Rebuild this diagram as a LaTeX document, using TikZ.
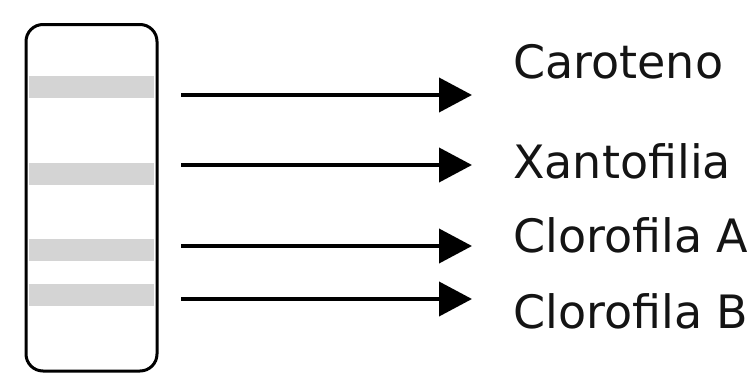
\documentclass[tikz,border=0pt]{standalone}
\usepackage{fontspec}
\setmainfont{DejaVu Sans}
\usetikzlibrary{arrows.meta}
\definecolor{bandgray}{HTML}{D4D4D4}
\tikzset{
  strip/.style={draw=black, line width=3pt, rounded corners=17pt},
  band/.style={fill=bandgray, draw=none},
  pointer/.style={line width=4pt, -{Triangle[length=33pt, width=34pt]}, shorten >=0pt},
  pigment/.style={anchor=base west, inner sep=0pt, font=\fontsize{46}{50}\selectfont, text=black!92}
}
\begin{document}
\begin{tikzpicture}[x=1pt, y=-1pt]
  \useasboundingbox (0,0) rectangle (754,375);
  % pigment bands on the strip
  \fill[band] (29,76) rectangle (154,98);
  \fill[band] (29,163) rectangle (154,185);
  \fill[band] (29,239) rectangle (154,261);
  \fill[band] (29,284) rectangle (154,306);
  % chromatography strip
  \draw[strip] (26,24.5) rectangle (157,371);
  % labels
  \node[pigment] (car) at (513,78) {Caroteno};
  \node[pigment] (xan) at (513,178) {Xantofilia};
  \node[pigment] (cla) at (513,252) {Clorofila A};
  \node[pigment] (clb) at (513,328) {Clorofila B};
  % arrow ends
  \coordinate (s1) at (181,95);  \coordinate (e1) at (472,95);
  \coordinate (s2) at (181,165); \coordinate (e2) at (472,165);
  \coordinate (s3) at (181,246); \coordinate (e3) at (472,246);
  \coordinate (s4) at (181,299); \coordinate (e4) at (472,299);
  \draw[pointer] (s1) -- (e1);
  \draw[pointer] (s2) -- (e2);
  \draw[pointer] (s3) -- (e3);
  \draw[pointer] (s4) -- (e4);
\end{tikzpicture}
\end{document}
